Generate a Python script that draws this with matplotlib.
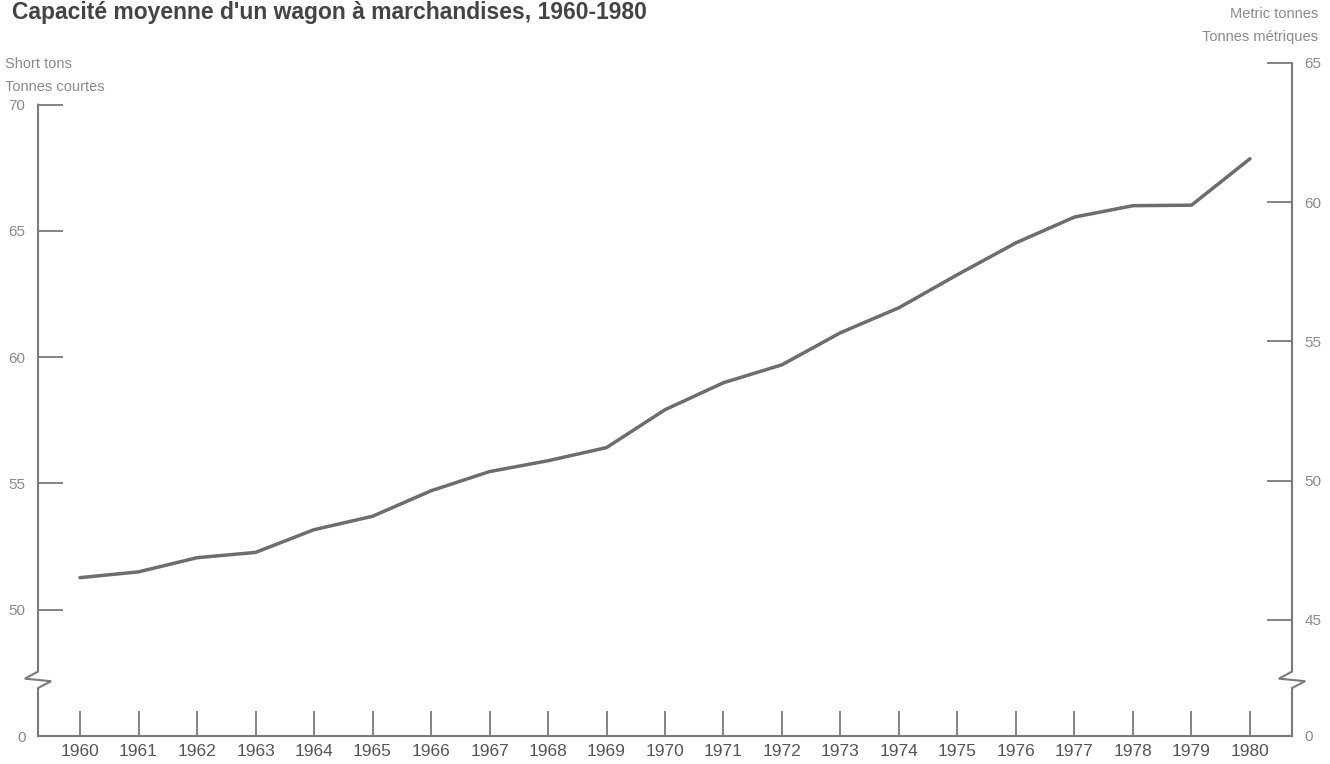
import numpy as np
import matplotlib
matplotlib.use("Agg")
import matplotlib.pyplot as plt

plt.rcParams['font.family'] = ['Liberation Sans', 'DejaVu Sans']

# données
years = np.arange(1960, 1981)
short_tons = [51.27, 51.50, 52.06, 52.27, 53.17, 53.70, 54.71, 55.47, 55.90, 56.42,
              57.92, 58.99, 59.70, 60.97, 61.96, 63.27, 64.53, 65.55, 66.00, 66.02, 67.86]
left_ticks = [45, 50, 55, 60, 65, 70]
left_labels = ['0', '50', '55', '60', '65', '70']
right_ticks = [45, 50, 55, 60, 65]
right_labels = ['45', '50', '55', '60', '65']
title = "Capacité moyenne d'un wagon à marchandises, 1960-1980"

k = 0.907185  # short ton -> tonne métrique
y_lo, y_hi = 45.0, 65 / k
axis_col = '#7a7a7a'
text_col = '#8a8a8a'

fig = plt.figure(figsize=(13.3, 7.64), dpi=100)
ax = fig.add_axes([38 / 1330, 28 / 764, 1254 / 1330, 673 / 764])

ax.plot(years, short_tons, color='#6b6e69', lw=2.5, solid_capstyle='round')
ax.set_xlim(1959.282, 1980.718)
ax.set_ylim(y_lo, y_hi)

for s in ['left', 'right', 'top']:
    ax.spines[s].set_visible(False)
ax.spines['bottom'].set_color(axis_col)
ax.spines['bottom'].set_linewidth(1.5)

ax.set_xticks(years)
ax.set_xticklabels([str(y) for y in years])
ax.tick_params(axis='x', direction='in', length=18, width=1.3, color=axis_col,
               labelsize=12.5, labelcolor='#555555', pad=6)
ax.set_yticks(left_ticks)
ax.set_yticklabels(left_labels)
ax.tick_params(axis='y', direction='in', length=18, width=1.3, color=axis_col,
               labelsize=11, labelcolor=text_col, pad=9)

# axe de droite (tonnes métriques)
ax2 = ax.twinx()
ax2.set_ylim(y_lo * k, y_hi * k)
for s in ax2.spines.values():
    s.set_visible(False)
ax2.set_yticks([y_lo * k] + right_ticks)
ax2.set_yticklabels(['0'] + right_labels)
ax2.tick_params(axis='y', direction='in', length=18, width=1.3, color=axis_col,
                labelsize=11, labelcolor=text_col, pad=9)

# axes verticaux avec coupure
dx = 0.0105
tr = ax.get_yaxis_transform()
for x0, top in [(0, 70), (1, y_hi)]:
    ax.plot([x0, x0, x0 - dx, x0 + dx, x0, x0],
            [top, 47.55, 47.27, 47.17, 46.9, y_lo],
            transform=tr, color=axis_col, lw=1.5, clip_on=False,
            solid_joinstyle='miter')

fig.text(12 / 1330, 1 - 19 / 764, title, fontsize=16.5, fontweight='bold',
         color='#444444', ha='left', va='baseline')
fig.text(5 / 1330, 1 - 68 / 764, 'Short tons', fontsize=10.5, color=text_col,
         ha='left', va='baseline')
fig.text(5 / 1330, 1 - 91 / 764, 'Tonnes courtes', fontsize=10.5, color=text_col,
         ha='left', va='baseline')
fig.text(1318 / 1330, 1 - 18 / 764, 'Metric tonnes', fontsize=10.5, color=text_col,
         ha='right', va='baseline')
fig.text(1318 / 1330, 1 - 41 / 764, 'Tonnes métriques', fontsize=10.5, color=text_col,
         ha='right', va='baseline')

fig.savefig('out.png', dpi=100, facecolor='white')
